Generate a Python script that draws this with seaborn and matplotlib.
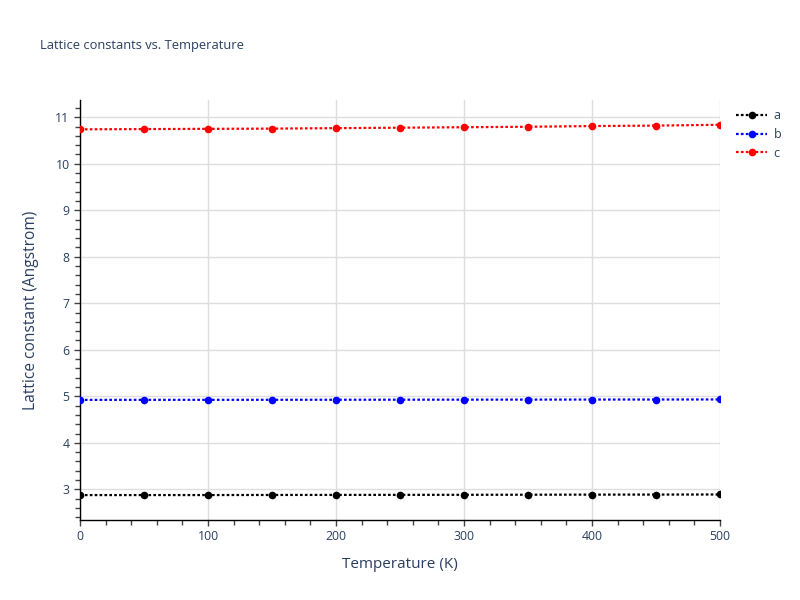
import matplotlib
matplotlib.use("Agg")
import matplotlib.pyplot as plt
from matplotlib.ticker import MultipleLocator
from matplotlib.lines import Line2D
import seaborn as sns
import pandas as pd

temperature = [0, 50, 100, 150, 200, 250, 300, 350, 400, 450, 500]
a_vals = [2.876, 2.877, 2.877, 2.879, 2.880, 2.881, 2.882, 2.884, 2.886, 2.887, 2.889]
b_vals = [4.923, 4.924, 4.924, 4.925, 4.926, 4.927, 4.928, 4.929, 4.930, 4.931, 4.932]
c_vals = [10.740, 10.745, 10.750, 10.755, 10.765, 10.775, 10.785, 10.795, 10.810, 10.820, 10.838]
series_names = ["a", "b", "c"]
series_colors = ["black", "blue", "red"]

df = pd.DataFrame({
    "Temperature": temperature * 3,
    "value": a_vals + b_vals + c_vals,
    "param": ["a"] * len(temperature) + ["b"] * len(temperature) + ["c"] * len(temperature),
})

sns.set_style("white")
plt.rcParams["font.family"] = ["Open Sans", "DejaVu Sans"]
text_color = "#2a3f5f"

fig = plt.figure(figsize=(8, 6), dpi=100)
ax = fig.add_axes([0.1, 0.1333, 0.8, 0.7])

dot = (0, (1.2, 1.0))
for name, col in zip(series_names, series_colors):
    sub = df[df["param"] == name]
    sns.lineplot(data=sub, x="Temperature", y="value", ax=ax, color=col,
                 marker="o", markersize=5.5, markeredgewidth=0,
                 linewidth=1.6, linestyle=dot, legend=False, zorder=3)

ax.set_xlim(0, 500)
ax.set_ylim(2.34, 11.37)
ax.xaxis.set_major_locator(MultipleLocator(100))
ax.xaxis.set_minor_locator(MultipleLocator(20))
ax.yaxis.set_major_locator(MultipleLocator(1))
ax.yaxis.set_minor_locator(MultipleLocator(0.2))

ax.grid(True, which="major", color="#dedede", linewidth=1.0)
ax.set_axisbelow(True)
for s in ["top", "right"]:
    ax.spines[s].set_visible(False)
for s in ["left", "bottom"]:
    ax.spines[s].set_color("black")
    ax.spines[s].set_linewidth(1.0)

ax.tick_params(which="both", direction="out", color="#444444", width=1,
               labelcolor=text_color, labelsize=8.8, left=True, bottom=True)
ax.tick_params(which="major", length=4)
ax.tick_params(which="minor", length=3.5)

ax.set_xlabel("Temperature (K)", fontsize=11, color=text_color, labelpad=10)
ax.set_ylabel("Lattice constant (Angstrom)", fontsize=11.2, color=text_color, labelpad=12)

fig.text(0.05, 0.925, "Lattice constants vs. Temperature", fontsize=9.3,
         color=text_color, ha="left", va="center")

handles = [Line2D([0], [0], color=c, linestyle=dot, linewidth=1.6, marker="o",
                  markersize=5.5, markeredgewidth=0) for c in series_colors]
leg = fig.legend(handles, series_names, loc="upper left", bbox_to_anchor=(0.914, 0.826),
                 frameon=False, fontsize=9, handlelength=2.5, handletextpad=0.5,
                 labelspacing=0.45, borderaxespad=0)
for t in leg.get_texts():
    t.set_color(text_color)

fig.savefig("out.png", dpi=100)
